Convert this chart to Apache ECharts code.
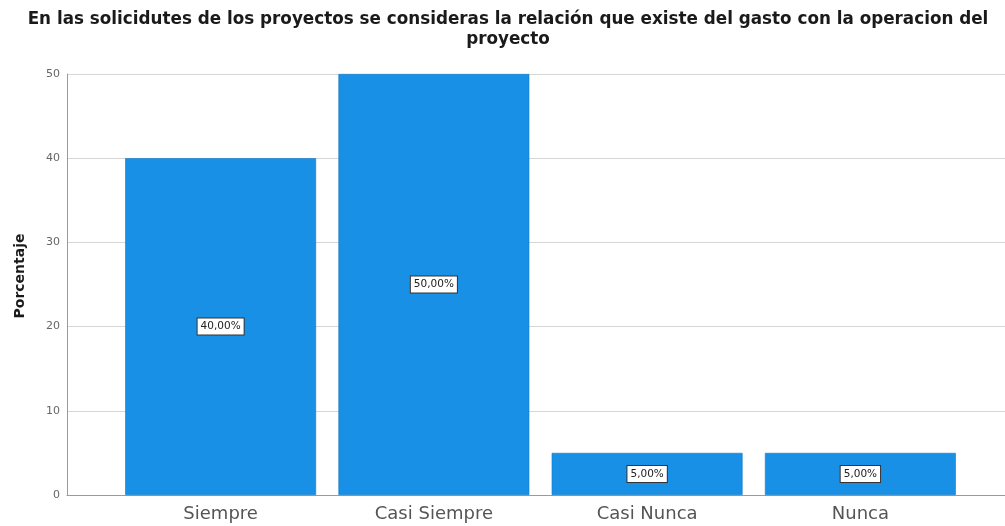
<!DOCTYPE html>
<html>
<head>
<meta charset="utf-8">
<script src="https://cdn.jsdelivr.net/npm/echarts@6/dist/echarts.min.js"></script>
<style>
  html, body { margin: 0; padding: 0; background: #fff; }
  #chart { width: 1005px; height: 526px; }
</style>
</head>
<body>
<div id="chart"></div>
<script>
// Response categories and their percentages
const categories = ['Siempre', 'Casi Siempre', 'Casi Nunca', 'Nunca'];
const percentages = [40, 50, 5, 5];
const yTicks = [0, 10, 20, 30, 40, 50];

const chart = echarts.init(document.getElementById('chart'));

const fmt = v => v.toFixed(2).replace('.', ',') + '%';
const FONT = 'DejaVu Sans, Verdana, sans-serif';

chart.setOption({
  animation: false,
  backgroundColor: '#ffffff',
  title: {
    text: 'En las solicidutes de los proyectos se consideras la relación que existe del gasto con la operacion del\nproyecto',
    left: 503,
    top: 5,
    textAlign: 'center',
    textStyle: {
      fontFamily: FONT,
      fontWeight: 'bold',
      fontSize: 16.8,
      lineHeight: 20,
      color: '#1a1a1a'
    }
  },
  graphic: [{
    // vertical axis title
    type: 'text',
    x: 20,
    y: 276,
    rotation: Math.PI / 2,
    style: {
      text: 'Porcentaje',
      fontFamily: FONT,
      fontWeight: 'bold',
      fontSize: 14,
      fill: '#1a1a1a',
      align: 'center',
      verticalAlign: 'middle'
    }
  }],
  grid: [
    // frame with y axis, gridlines and baseline
    { left: 67, right: 0, top: 74, bottom: 31 },
    // bar area, padded so the categories sit inside the frame
    { left: 114, right: 38, top: 74, bottom: 31 }
  ],
  xAxis: [
    {
      gridIndex: 0, type: 'value', min: 0, max: 1,
      axisLine: { show: true, onZero: false, lineStyle: { color: '#9a9a9a', width: 1 } },
      axisTick: { show: false }, axisLabel: { show: false }, splitLine: { show: false }
    },
    {
      gridIndex: 1, type: 'category', data: categories,
      axisLine: { show: false }, axisTick: { show: false },
      axisLabel: {
        fontFamily: FONT,
        fontSize: 18, color: '#555', margin: 10
      }
    }
  ],
  yAxis: [
    {
      gridIndex: 0, type: 'value', min: yTicks[0], max: yTicks[yTicks.length - 1], interval: 10,
      axisLine: { show: true, lineStyle: { color: '#9a9a9a', width: 1 } },
      axisTick: { show: false },
      axisLabel: {
        fontFamily: FONT,
        fontSize: 11, color: '#666', margin: 7
      },
      splitLine: { show: true, lineStyle: { color: '#d6d6d6', width: 1 } }
    },
    {
      gridIndex: 1, type: 'value', min: yTicks[0], max: yTicks[yTicks.length - 1],
      show: false, splitLine: { show: false }
    }
  ],
  series: [{
    type: 'bar',
    xAxisIndex: 1,
    yAxisIndex: 1,
    data: percentages,
    barCategoryGap: '10.5%',
    itemStyle: { color: '#1790e5', borderColor: '#1478c4', borderWidth: 0.6 },
    label: {
      show: true,
      position: 'inside',
      formatter: p => fmt(p.value),
      fontFamily: FONT,
      fontSize: 10.5,
      color: '#222',
      backgroundColor: '#ffffff',
      borderColor: '#333',
      borderWidth: 1,
      padding: [3, 3, 2, 3]
    }
  }]
});
</script>
</body>
</html>
